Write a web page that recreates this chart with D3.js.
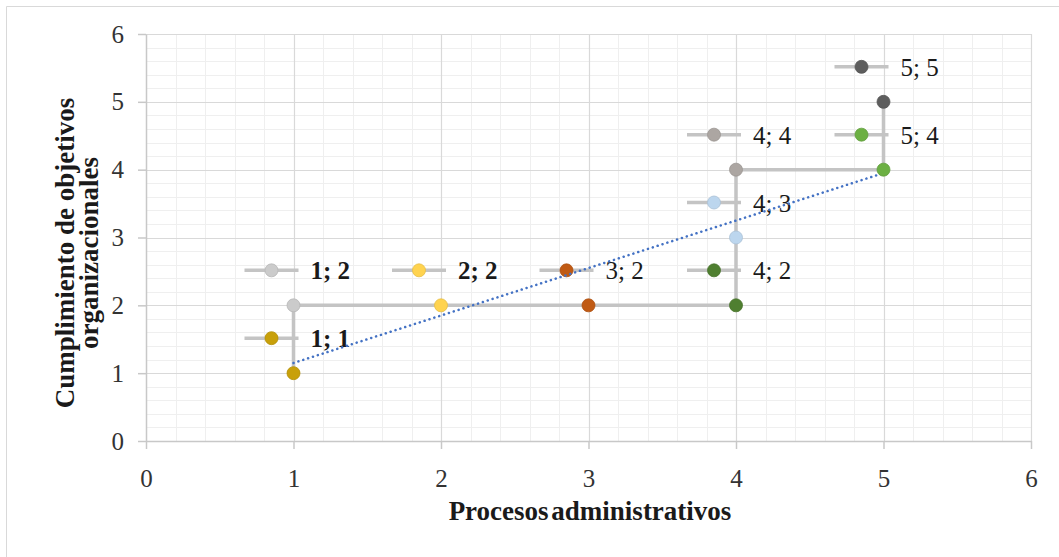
<!DOCTYPE html>
<html>
<head>
<meta charset="utf-8">
<script src="https://cdnjs.cloudflare.com/ajax/libs/d3/7.8.5/d3.min.js"></script>
<style>
  html, body { margin: 0; padding: 0; background: #fff; }
  svg { display: block; }
</style>
</head>
<body>
<svg id="chart" width="1059" height="557"></svg>
<script>
// ---- data ----
const xValues = [1, 1, 2, 3, 4, 4, 4, 5, 5];
const yValues = [1, 2, 2, 2, 2, 3, 4, 4, 5];
const pointColors = ["#c8a00a", "#cbcbcb", "#ffd34f", "#c05a14", "#4f7f30", "#bcd6ee", "#aca6a2", "#6cb043", "#5d5d5d"];
const labelBold = [true, true, true, false, false, false, false, false, false];
const trendX = [1, 5];
const trendY = [1.15, 3.95];
const xTicks = [0, 1, 2, 3, 4, 5, 6];
const yTicks = [0, 1, 2, 3, 4, 5, 6];
const xTitle = "Procesos administrativos";
const yTitleLines = ["Cumplimiento de objetivos", "organizacionales"];

// ---- layout ----
const svg = d3.select("#chart");
const x = d3.scaleLinear().domain([0, 6]).range([146, 1031]);
const y = d3.scaleLinear().domain([0, 6]).range([441, 34]);
const font = "'Liberation Serif', 'Times New Roman', serif";

// outer border
svg.append("path")
  .attr("d", "M6.5,557 V6.5 H1059")
  .attr("fill", "none").attr("stroke", "#d9d9d9").attr("stroke-width", 1);

// minor grid
const minorX = d3.range(0, 6.0001, 0.2).filter(v => Math.abs(v - Math.round(v)) > 1e-6);
const minorY = d3.range(0, 6.0001, 0.2).filter(v => Math.abs(v - Math.round(v)) > 1e-6);
const grid = svg.append("g");
grid.selectAll(".mx").data(minorX).join("line")
  .attr("x1", d => Math.round(x(d)) + 0.5).attr("x2", d => Math.round(x(d)) + 0.5)
  .attr("y1", y(0)).attr("y2", y(6))
  .attr("stroke", "#efefef").attr("stroke-width", 1);
grid.selectAll(".my").data(minorY).join("line")
  .attr("y1", d => Math.round(y(d)) + 0.5).attr("y2", d => Math.round(y(d)) + 0.5)
  .attr("x1", x(0)).attr("x2", x(6))
  .attr("stroke", "#efefef").attr("stroke-width", 1);
// major grid
grid.selectAll(".Mx").data(xTicks.slice(1)).join("line")
  .attr("x1", d => Math.round(x(d)) + 0.5).attr("x2", d => Math.round(x(d)) + 0.5)
  .attr("y1", y(0)).attr("y2", y(6))
  .attr("stroke", "#d9d9d9").attr("stroke-width", 1.2);
grid.selectAll(".My").data(yTicks.slice(1)).join("line")
  .attr("y1", d => Math.round(y(d)) + 0.5).attr("y2", d => Math.round(y(d)) + 0.5)
  .attr("x1", x(0)).attr("x2", x(6))
  .attr("stroke", "#d9d9d9").attr("stroke-width", 1.2);

// axes
const xAxis = svg.append("g").attr("transform", `translate(0,${y(0)})`)
  .call(d3.axisBottom(x).tickValues(xTicks).tickFormat(d3.format("d")).tickSize(8).tickSizeOuter(0).tickPadding(20));
const yAxis = svg.append("g").attr("transform", `translate(${x(0)},0)`)
  .call(d3.axisLeft(y).tickValues(yTicks).tickFormat(d3.format("d")).tickSize(8).tickSizeOuter(0).tickPadding(14));
[xAxis, yAxis].forEach(g => {
  g.select(".domain").attr("stroke", "#c8c8c8").attr("stroke-width", 1.5);
  g.selectAll(".tick line").attr("stroke", "#c8c8c8").attr("stroke-width", 1.5);
  g.selectAll(".tick text").attr("font-family", font).attr("font-size", 25).attr("fill", "#333");
});

// series line
const pts = xValues.map((v, i) => ({ x: v, y: yValues[i], c: pointColors[i], b: labelBold[i] }));
svg.append("path")
  .datum(pts)
  .attr("d", d3.line().x(d => x(d.x)).y(d => y(d.y)))
  .attr("fill", "none").attr("stroke", "#c4c4c4").attr("stroke-width", 3.5);

// labels (legend key + text)
const lab = svg.append("g").selectAll("g").data(pts).join("g")
  .attr("transform", d => `translate(${x(d.x)},${y(d.y) - 35})`);
lab.append("line").attr("x1", -49).attr("x2", 5).attr("y1", 0).attr("y2", 0)
  .attr("stroke", "#c4c4c4").attr("stroke-width", 3.5);
lab.append("circle").attr("cx", -22).attr("cy", 0).attr("r", 6.5)
  .attr("fill", d => d.c).attr("stroke", d => d3.color(d.c).darker(0.3)).attr("stroke-width", 0.8);
lab.append("text").attr("x", 17).attr("y", 9)
  .attr("font-family", font).attr("font-size", 25)
  .attr("font-weight", d => d.b ? "bold" : "normal")
  .attr("fill", "#1a1a1a")
  .text(d => `${d.x}; ${d.y}`);

// trendline
svg.append("path")
  .datum(trendX.map((v, i) => [v, trendY[i]]))
  .attr("d", d3.line().x(d => x(d[0])).y(d => y(d[1])))
  .attr("fill", "none").attr("stroke", "#4472c4").attr("stroke-width", 2.5)
  .attr("stroke-dasharray", "0.1 5").attr("stroke-linecap", "round");

// markers
svg.append("g").selectAll("circle").data(pts).join("circle")
  .attr("cx", d => x(d.x)).attr("cy", d => y(d.y)).attr("r", 6.5)
  .attr("fill", d => d.c).attr("stroke", d => d3.color(d.c).darker(0.3)).attr("stroke-width", 0.8);

// axis titles
svg.append("text")
  .attr("x", 590).attr("y", 520).attr("text-anchor", "middle")
  .attr("font-family", font).attr("font-size", 27).attr("font-weight", "bold").attr("fill", "#1a1a1a")
  .attr("word-spacing", -4)
  .text(xTitle);
const yt = svg.append("text")
  .attr("transform", "translate(66,253) rotate(-90)")
  .attr("text-anchor", "middle")
  .attr("font-family", font).attr("font-size", 27).attr("font-weight", "bold").attr("fill", "#1a1a1a");
yTitleLines.forEach((t, i) => {
  yt.append("tspan").attr("x", 0).attr("dy", i === 0 ? 8 : 24).text(t);
});
</script>
</body>
</html>
